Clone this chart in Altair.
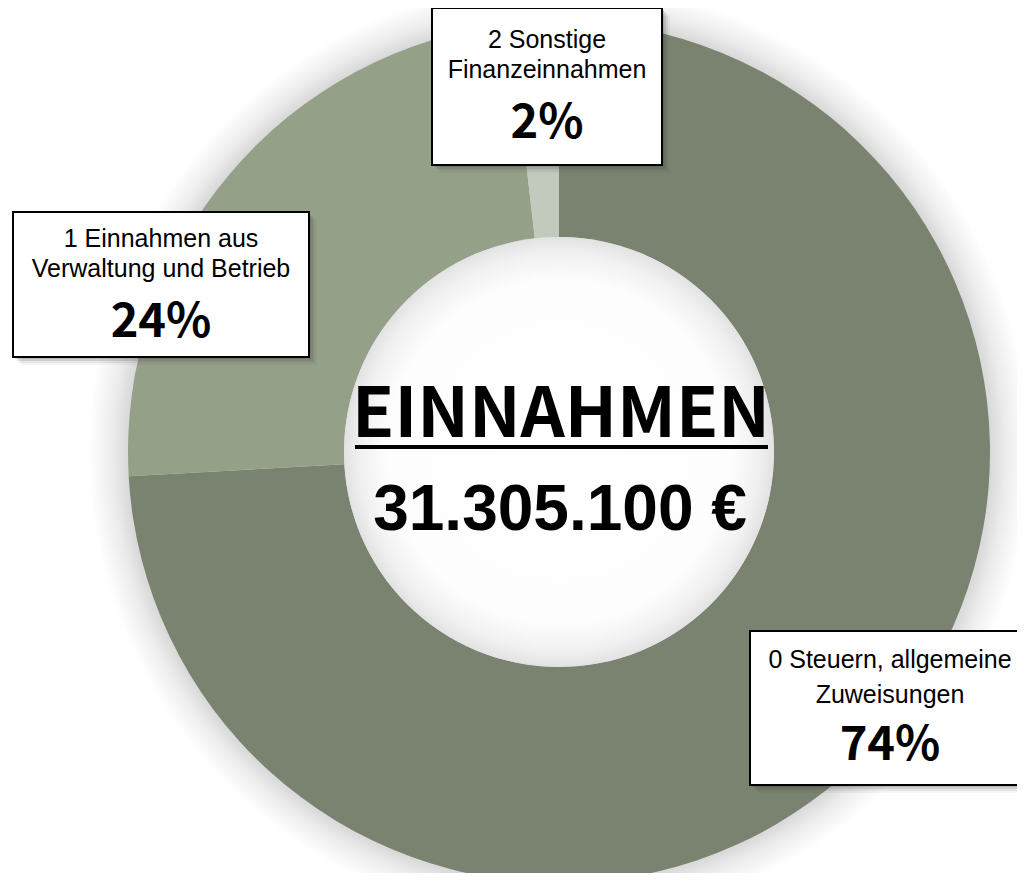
import altair as alt
import pandas as pd

# ---- data ----
categories = ["0 Steuern, allgemeine Zuweisungen",
              "1 Einnahmen aus Verwaltung und Betrieb",
              "2 Sonstige Finanzeinnahmen"]
label_line1 = ["0 Steuern, allgemeine", "1 Einnahmen aus", "2 Sonstige"]
label_line2 = ["Zuweisungen", "Verwaltung und Betrieb", "Finanzeinnahmen"]
shares = [74.1, 24.1, 1.8]
pct_labels = ["74%", "24%", "2%"]
title_text = "EINNAHMEN"
total_text = "31.305.100 €"

# ---- styles / layout ----
colors = ["#7a8370", "#95a088", "#c1cabc"]
W, H = 1009, 865
CX, CY = 551, 444
R_OUT, R_IN = 431, 215
box_x1 = [742, 5, 424]
box_x2 = [1024, 301, 654]
box_y1 = [623, 204, 0]
box_y2 = [777, 349, 157]
text_cx = [882, 153, 539]
base1 = [660, 239, 40]
base2 = [695, 269, 70]
base3 = [752, 329, 130]

COND = "'Noto Sans CJK SC', 'DejaVu Sans Condensed', sans-serif"
SANS = "'Liberation Sans', Arial, sans-serif"

slices = pd.DataFrame({"category": categories, "share": shares,
                       "idx": list(range(len(categories)))})
boxes = pd.DataFrame({"x1": box_x1, "x2": box_x2, "y1": box_y1, "y2": box_y2,
                      "cx": text_cx, "b1": base1, "b2": base2, "b3": base3,
                      "l1": label_line1, "l2": label_line2, "pct": pct_labels})
one = pd.DataFrame({"a": [0]})

def grad(stops):
    return {"gradient": "radial", "x1": 0.5, "y1": 0.5, "r1": 0,
            "x2": 0.5, "y2": 0.5, "r2": 0.5,
            "stops": [{"offset": o, "color": c} for o, c in stops]}

R_GLOW = 470
glow = alt.Chart(one).mark_arc(
    theta=0, theta2=6.2832, outerRadius=R_GLOW, innerRadius=0,
    color=grad([(0, "#d8d8d8"), (R_OUT / R_GLOW, "#d8d8d8"),
                (0.95, "#ececec"), (1, "#ffffff")])
).encode(x=alt.value(CX), y=alt.value(CY))

donut = alt.Chart(slices).mark_arc(outerRadius=R_OUT, innerRadius=R_IN).encode(
    theta=alt.Theta("share:Q", stack=True),
    color=alt.Color("category:N", scale=alt.Scale(domain=categories, range=colors), legend=None),
    order=alt.Order("idx:Q"),
    x=alt.value(CX), y=alt.value(CY),
)

hole = alt.Chart(one).mark_arc(
    theta=0, theta2=6.2832, outerRadius=R_IN, innerRadius=0,
    color=grad([(0, "#ffffff"), (0.8, "#fdfdfd"), (0.93, "#f0f0f0"), (1, "#e2e2e2")])
).encode(x=alt.value(CX), y=alt.value(CY))

title = alt.Chart(one).mark_text(
    text=title_text, font=COND, fontWeight="bold", fontSize=69,
    align="center", baseline="alphabetic", color="black"
).encode(x=alt.value(553), y=alt.value(429))

underline = alt.Chart(one).mark_rule(color="black", strokeWidth=4).encode(
    x=alt.value(347), x2=alt.value(760), y=alt.value(439))

total = alt.Chart(one).mark_text(
    text=total_text, font=SANS, fontWeight="bold", fontSize=64,
    align="center", baseline="alphabetic", color="black"
).encode(x=alt.value(552), y=alt.value(522))

X = lambda f: alt.X(f"{f}:Q", scale=None, axis=None)
Y = lambda f: alt.Y(f"{f}:Q", scale=None, axis=None)

shadows = []
for off, op in [(2, 0.16), (4, 0.12), (6, 0.08), (8, 0.05)]:
    shadows.append(
        alt.Chart(boxes).transform_calculate(
            sx1=f"datum.x1 + {off}", sx2=f"datum.x2 + {off}",
            sy1=f"datum.y1 + {off}", sy2=f"datum.y2 + {off}"
        ).mark_rect(color="#333333", opacity=op).encode(
            x=X("sx1"), x2="sx2:Q", y=Y("sy1"), y2="sy2:Q"))

box = alt.Chart(boxes).mark_rect(fill="white", stroke="black", strokeWidth=2).encode(
    x=X("x1"), x2="x2:Q", y=Y("y1"), y2="y2:Q")

t1 = alt.Chart(boxes).mark_text(font=SANS, fontSize=25, align="center",
                                baseline="alphabetic", color="black").encode(
    x=X("cx"), y=Y("b1"), text="l1:N")
t2 = alt.Chart(boxes).mark_text(font=SANS, fontSize=25, align="center",
                                baseline="alphabetic", color="black").encode(
    x=X("cx"), y=Y("b2"), text="l2:N")
t3 = alt.Chart(boxes).mark_text(font=COND, fontWeight="bold", fontSize=47, align="center",
                                baseline="alphabetic", color="black").encode(
    x=X("cx"), y=Y("b3"), text="pct:N")

chart = alt.layer(glow, donut, hole, title, underline, total, *shadows, box, t1, t2, t3).properties(
    width=W, height=H, padding=0, autosize=alt.AutoSizeParams(type="none"),
    background="white"
).configure_view(stroke=None)

chart.save("out.html", embed_options={"renderer": "svg", "actions": False})
